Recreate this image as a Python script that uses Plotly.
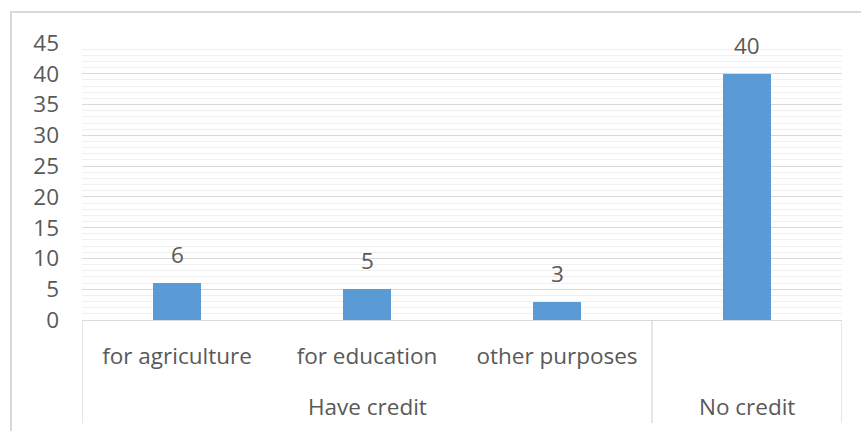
import plotly.graph_objects as go

# Data
groups = ["Have credit", "Have credit", "Have credit", "No credit"]
subcats = ["for agriculture", "for education", "other purposes", ""]
values = [6, 5, 3, 40]
y_ticks = [0, 5, 10, 15, 20, 25, 30, 35, 40, 45]

W, H = 861, 431
ML, MR, MT, MB = 82, 19, 43, 111
PW, PH = W - ML - MR, H - MT - MB

FONT = "Open Sans"
FS = 22.5
TXT = "#595959"
GRID = "#D9D9D9"

xs = list(range(len(values)))

fig = go.Figure()
fig.add_trace(go.Bar(
    x=xs, y=values, width=0.25,
    marker=dict(color="#5B9BD5", line=dict(width=0)),
    hoverinfo="skip", showlegend=False,
))

# data labels
for x, v in zip(xs, values):
    fig.add_annotation(x=x, y=v, text=str(v), showarrow=False,
                       xref="x", yref="y", yanchor="bottom", yshift=11,
                       font=dict(family=FONT, size=FS, color=TXT))

# group labels and dividers
def py(px):
    return (H - MB - px) / PH

bounds = []
start = 0
for i in range(1, len(groups) + 1):
    if i == len(groups) or groups[i] != groups[start]:
        fig.add_annotation(x=(start + i - 1) / 2, y=py(406), text=groups[start],
                           showarrow=False, xref="x", yref="paper",
                           yanchor="middle",
                           font=dict(family=FONT, size=FS, color=TXT))
        bounds.append(start - 0.5)
        start = i
bounds.append(len(groups) - 0.5)
for b in bounds:
    fig.add_shape(type="line", xref="x", yref="paper", x0=b, x1=b,
                  y0=0, y1=py(423), line=dict(color=GRID, width=1.3))

# chart border
fig.add_shape(type="rect", xref="paper", yref="paper",
              x0=(11 - ML) / PW, x1=(W + 5 - ML) / PW,
              y0=py(H + 5), y1=py(12),
              line=dict(color="#D9D9D9", width=2), fillcolor="rgba(0,0,0,0)",
              layer="below")

fig.update_layout(
    width=W, height=H,
    margin=dict(l=ML, r=MR, t=MT, b=MB),
    paper_bgcolor="white", plot_bgcolor="white",
    font=dict(family=FONT, size=FS, color=TXT),
    bargap=0,
    xaxis=dict(
        range=[-0.5, len(values) - 0.5],
        tickvals=xs, ticktext=subcats,
        showgrid=False, zeroline=False,
        showline=True, linecolor=GRID, linewidth=1.3,
        ticks="", ticklabelstandoff=16,
        tickfont=dict(family=FONT, size=FS, color=TXT),
    ),
    yaxis=dict(
        range=[0, 45],
        tickvals=y_ticks,
        showgrid=True, gridcolor=GRID, gridwidth=1.3,
        zeroline=False, showline=False,
        ticks="", ticklabelstandoff=22,
        tickfont=dict(family=FONT, size=FS, color=TXT),
        minor=dict(dtick=1, showgrid=True, gridcolor="#F0F0F0", gridwidth=1),
    ),
)

fig.write_html("out.html")
